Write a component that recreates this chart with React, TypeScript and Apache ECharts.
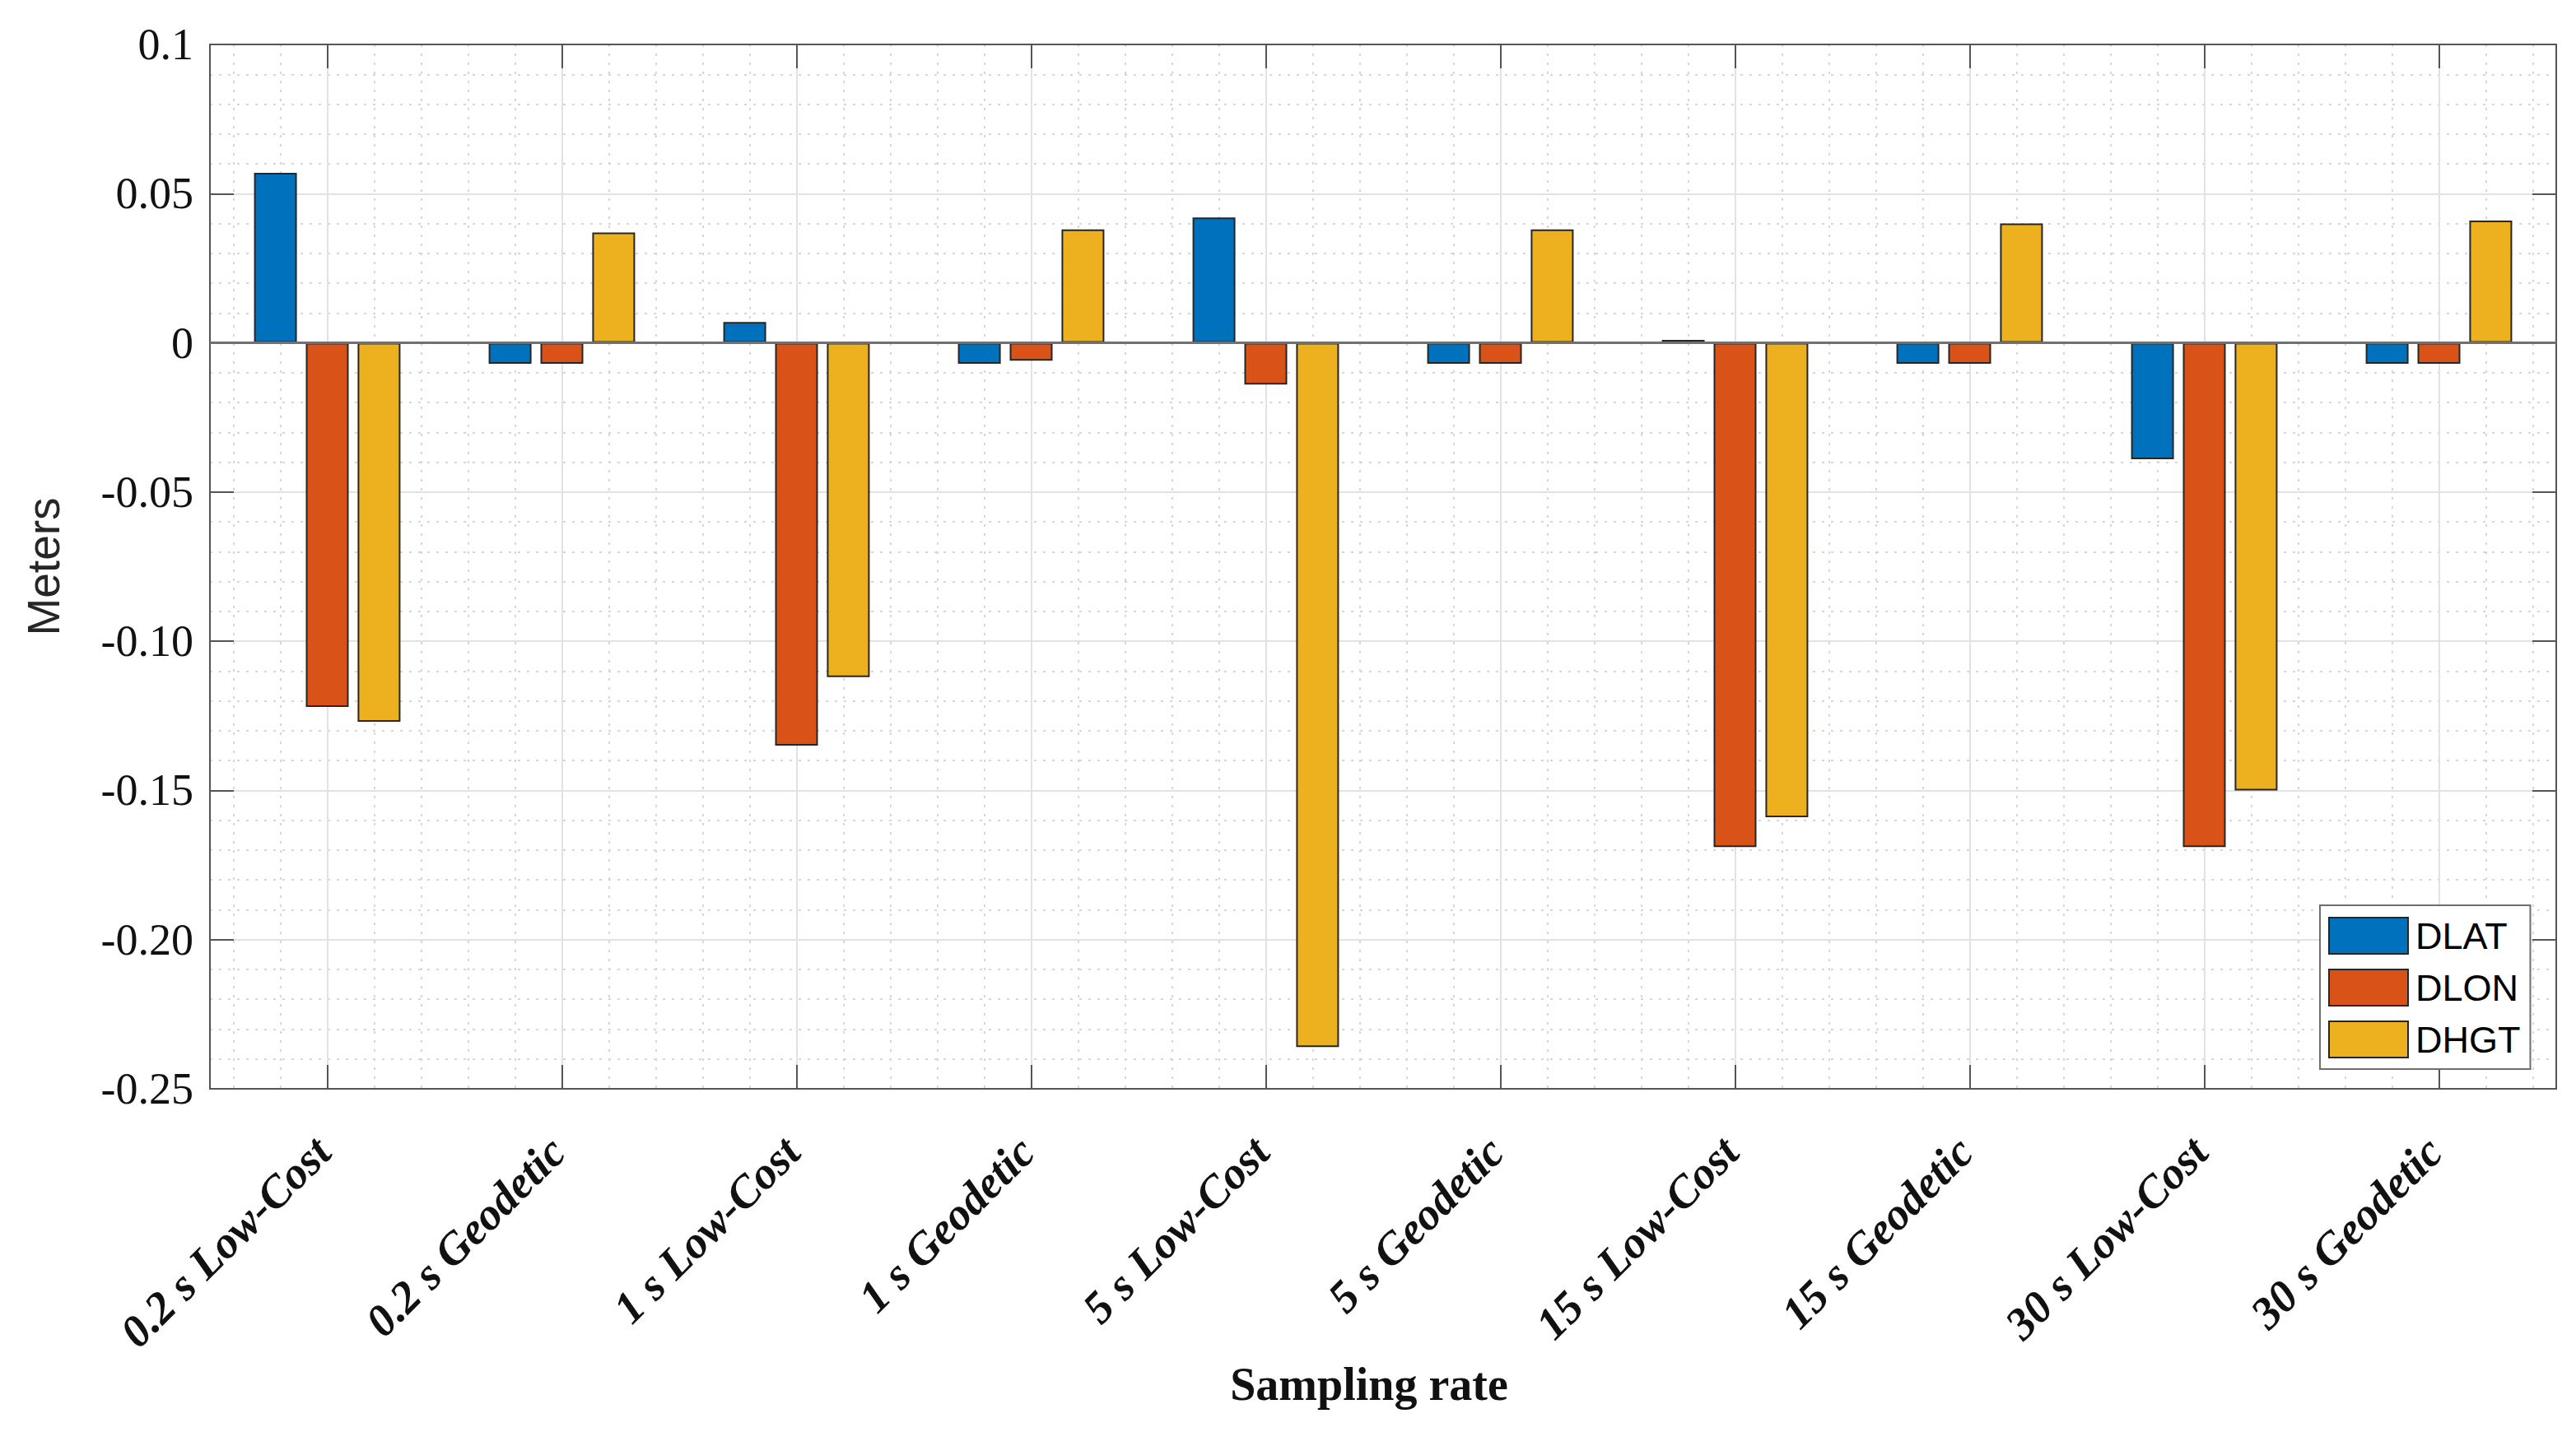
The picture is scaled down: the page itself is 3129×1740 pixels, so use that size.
import React, { useEffect, useRef } from 'react';
import * as echarts from 'echarts';

const categories = [
  '0.2 s Low-Cost',
  '0.2 s Geodetic',
  '1 s Low-Cost',
  '1 s Geodetic',
  '5 s Low-Cost',
  '5 s Geodetic',
  '15 s Low-Cost',
  '15 s Geodetic',
  '30 s Low-Cost',
  '30 s Geodetic',
];
const seriesNames = ['DLAT', 'DLON', 'DHGT'];
const dlat = [0.057, -0.007, 0.007, -0.007, 0.042, -0.007, 0.001, -0.007, -0.039, -0.007];
const dlon = [-0.122, -0.007, -0.135, -0.006, -0.014, -0.007, -0.169, -0.007, -0.169, -0.007];
const dhgt = [-0.127, 0.037, -0.112, 0.038, -0.236, 0.038, -0.159, 0.04, -0.15, 0.041];
const yTickLabels = ['-0.25', '-0.20', '-0.15', '-0.10', '-0.05', '0', '0.05', '0.1'];
const colors = ['#0072BD', '#D95319', '#EDB120'];

const SERIF = '"Liberation Serif", "Times New Roman", serif';
const SANS = '"Liberation Sans", Arial, sans-serif';
const AXIS_COLOR = '#555555';

export default function App() {
  const ref = useRef<HTMLDivElement>(null);
  useEffect(() => {
    const chart = echarts.init(ref.current!, null, { renderer: 'svg' });
    const values = [dlat, dlon, dhgt];
    const option: any = {
      animation: false,
      backgroundColor: '#ffffff',
      grid: { left: 255, right: 24, top: 54, bottom: 417, containLabel: false },
      legend: {
        orient: 'vertical',
        left: 2818,
        top: 1100,
        z: 20,
        data: seriesNames,
        icon: 'rect',
        itemWidth: 96,
        itemHeight: 44,
        itemGap: 17,
        padding: [14, 12, 13, 10],
        borderColor: '#6e6e6e',
        borderWidth: 2,
        backgroundColor: '#ffffff',
        itemStyle: { borderColor: '#262626', borderWidth: 2 },
        textStyle: { fontFamily: SANS, fontSize: 45, color: '#000', lineHeight: 44, padding: [0, 0, 0, 4] },
      },
      xAxis: [
        {
          type: 'category',
          data: categories,
          position: 'bottom',
          boundaryGap: true,
          name: 'Sampling rate',
          nameLocation: 'middle',
          nameGap: 322,
          nameTextStyle: {
            fontFamily: SERIF,
            fontSize: 56,
            fontWeight: 'bold',
            color: '#111',
            padding: [0, 34, 0, 0],
          },
          axisLine: { show: true, onZero: false, lineStyle: { color: AXIS_COLOR, width: 2 } },
          axisTick: { show: true, inside: true, alignWithLabel: true, length: 29, lineStyle: { color: AXIS_COLOR, width: 2 } },
          axisLabel: {
            rotate: 45,
            margin: 62,
            interval: 0,
            fontFamily: SERIF,
            fontSize: 55,
            fontWeight: 'bold',
            fontStyle: 'italic',
            color: '#111',
            padding: [0, 8, 0, 0],
          },
          splitLine: { show: false },
        },
        {
          type: 'category',
          data: categories,
          position: 'top',
          boundaryGap: true,
          axisLine: { show: true, onZero: false, lineStyle: { color: AXIS_COLOR, width: 2 } },
          axisTick: { show: true, inside: true, alignWithLabel: true, length: 29, lineStyle: { color: AXIS_COLOR, width: 2 } },
          axisLabel: { show: false },
          splitLine: { show: false },
        },
        {
          type: 'value',
          min: 0.5,
          max: 10.5,
          splitNumber: 50,
          position: 'bottom',
          axisLine: { show: false },
          axisTick: { show: false },
          axisLabel: { show: false },
          splitLine: { show: true, lineStyle: { color: '#d6d6d6', width: 2, type: [3, 8] } },
        },
        {
          type: 'value',
          min: 0.5,
          max: 10.5,
          splitNumber: 10,
          position: 'bottom',
          axisLine: { show: false },
          axisTick: { show: false },
          axisLabel: { show: false },
          splitLine: { show: true, lineStyle: { color: '#e2e2e2', width: 2, type: 'solid' } },
        },
      ],
      yAxis: [
        {
          type: 'value',
          min: -0.25,
          max: 0.1,
          interval: 0.05,
          position: 'left',
          name: 'Meters',
          nameLocation: 'middle',
          nameRotate: 90,
          nameGap: 175,
          nameTextStyle: { fontFamily: SANS, fontSize: 55, color: '#262626' },
          axisLine: { show: true, lineStyle: { color: AXIS_COLOR, width: 2 } },
          axisTick: { show: true, inside: true, length: 29, lineStyle: { color: AXIS_COLOR, width: 2 } },
          axisLabel: {
            margin: 20,
            fontFamily: SERIF,
            fontSize: 54,
            color: '#111',
            formatter: (_v: number, i: number) => yTickLabels[i],
          },
          splitLine: { show: true, lineStyle: { color: '#e2e2e2', width: 2 } },
          minorTick: { show: false, splitNumber: 5 },
          minorSplitLine: { show: true, lineStyle: { color: '#d6d6d6', width: 2, type: [3, 8] } },
        },
        {
          type: 'value',
          min: -0.25,
          max: 0.1,
          interval: 0.05,
          position: 'right',
          axisLine: { show: true, lineStyle: { color: AXIS_COLOR, width: 2 } },
          axisTick: { show: true, inside: true, length: 29, lineStyle: { color: AXIS_COLOR, width: 2 } },
          axisLabel: { show: false },
          splitLine: { show: false },
        },
      ],
      series: seriesNames.map((name, i) => ({
        name,
        type: 'bar',
        xAxisIndex: 0,
        yAxisIndex: 0,
        data: values[i],
        barWidth: 52,
        barGap: '21%',
        itemStyle: { color: colors[i], borderColor: '#262626', borderWidth: 2 },
        z: 3,
        markLine:
          i === 0
            ? {
                silent: true,
                symbol: 'none',
                label: { show: false },
                lineStyle: { color: '#707070', width: 3, type: 'solid' },
                data: [{ yAxis: 0 }],
                z: 4,
              }
            : undefined,
      })),
    };
    chart.setOption(option);
    return () => chart.dispose();
  }, []);
  return (
    <div
      ref={ref}
      style={{ position: 'fixed', left: 0, top: 0, width: 3129, height: 1740, background: '#fff' }}
    />
  );
}
